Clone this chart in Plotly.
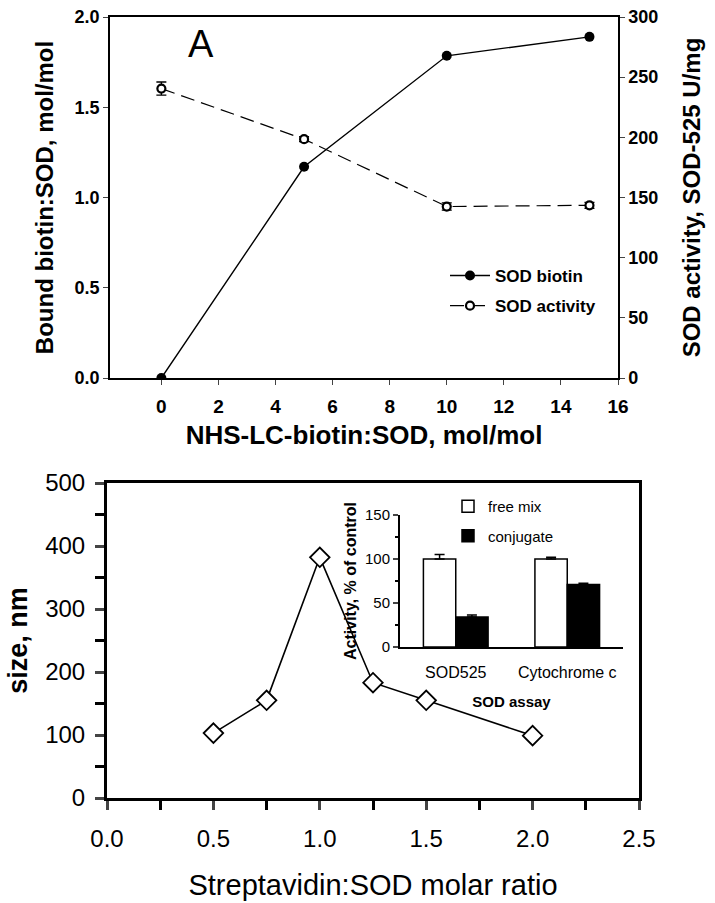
import plotly.graph_objects as go

# ---- Panel A data ----
nhs_ratio = [0, 5, 10, 15]
bound_biotin = [0.0, 1.17, 1.785, 1.89]
sod_activity = [240.5, 198.5, 142.5, 143.5]
sod_activity_err = [5.5, 2.0, 3.0, 2.5]

# ---- Panel B data ----
strep_ratio = [0.5, 0.75, 1.0, 1.25, 1.5, 2.0]
size_nm = [103, 155, 382, 183, 155, 99]

# ---- Inset data ----
assays = ["SOD525", "Cytochrome c"]
free_mix = [100, 100]
free_mix_err = [5, 2]
conjugate = [34, 71]
conjugate_err = [2.5, 1.5]

W, H = 715, 903
def px(x0, x1):
    return [x0 / W, x1 / W]
def py(top, bottom):
    return [1 - bottom / H, 1 - top / H]

BOLD = dict(family="Liberation Sans, Arial", color="black", weight="bold")
REG = dict(family="Liberation Sans, Arial", color="black")

fig = go.Figure()

fig.add_trace(go.Scatter(
    x=nhs_ratio, y=bound_biotin, name="SOD biotin", mode="lines+markers",
    line=dict(color="black", width=1.4), marker=dict(symbol="circle", size=10, color="black"),
    xaxis="x", yaxis="y", legendgroup="a", legend="legend"))
fig.add_trace(go.Scatter(
    x=nhs_ratio, y=sod_activity, name="SOD activity", mode="lines+markers",
    line=dict(color="black", width=1.2, dash="14px,7px"),
    marker=dict(symbol="circle", size=8, color="white", line=dict(color="black", width=2.2)),
    error_y=dict(type="data", array=sod_activity_err, color="black", thickness=1.3, width=5),
    xaxis="x", yaxis="y2", legendgroup="b", legend="legend"))

fig.add_trace(go.Scatter(
    x=strep_ratio, y=size_nm, mode="lines+markers", showlegend=False,
    line=dict(color="black", width=1.6),
    marker=dict(symbol="diamond", size=15, color="white", line=dict(color="black", width=1.8)),
    xaxis="x2", yaxis="y3"))

fig.add_trace(go.Bar(
    x=assays, y=free_mix, name="free mix", marker=dict(color="white", line=dict(color="black", width=1.5)),
    error_y=dict(type="data", array=free_mix_err, arrayminus=[0, 0], symmetric=False,
                 color="black", thickness=1.5, width=5),
    xaxis="x3", yaxis="y4", legend="legend2", legendgroup="f"))
fig.add_trace(go.Bar(
    x=assays, y=conjugate, name="conjugate", marker=dict(color="black", line=dict(color="black", width=1.5)),
    error_y=dict(type="data", array=conjugate_err, arrayminus=[0, 0], symmetric=False,
                 color="black", thickness=1.5, width=5),
    xaxis="x3", yaxis="y4", legend="legend2", legendgroup="c"))

fig.update_layout(
    width=W, height=H, margin=dict(l=0, r=0, t=0, b=0, autoexpand=False),
    paper_bgcolor="white", plot_bgcolor="rgba(0,0,0,0)",
    barmode="group", bargap=0.42, bargroupgap=0,
    xaxis=dict(domain=px(110, 618), range=[-1.8, 16], anchor="y", automargin=False,
               tickvals=list(range(0, 17, 2)), ticks="outside", ticklen=5, tickwidth=1.2,
               ticklabelstandoff=5,
               showline=True, linecolor="black", linewidth=1.5, mirror=True,
               showgrid=False, zeroline=False, tickfont=dict(size=19, **BOLD),
               title=dict(text="NHS-LC-biotin:SOD, mol/mol", font=dict(size=26, **BOLD), standoff=10)),
    yaxis=dict(domain=py(17, 378), range=[0, 2.0], anchor="x", automargin=False,
               tickvals=[0, 0.5, 1.0, 1.5, 2.0],
               tickformat=".1f", ticks="outside", ticklen=5, tickwidth=1.2,
               showline=True, linecolor="black", linewidth=1.5,
               showgrid=False, zeroline=False, tickfont=dict(size=18, **BOLD),
               title=dict(text="Bound biotin:SOD, mol/mol", font=dict(size=24, **BOLD), standoff=14)),
    yaxis2=dict(range=[0, 300], overlaying="y", side="right", anchor="x", automargin=False,
                tickvals=[0, 50, 100, 150, 200, 250, 300], ticks="outside", ticklen=5, tickwidth=1.2,
                showline=True, linecolor="black", linewidth=1.5,
                showgrid=False, zeroline=False, tickfont=dict(size=18, **BOLD),
                title=dict(text="SOD activity, SOD-525 U/mg", font=dict(size=24, **BOLD), standoff=26)),
    xaxis2=dict(domain=px(107, 639), range=[0, 2.5], anchor="y3", automargin=False,
                tickvals=[0, 0.5, 1.0, 1.5, 2.0, 2.5], tickformat=".1f",
                ticks="outside", ticklen=9, tickwidth=3, ticklabelstandoff=8,
                minor=dict(dtick=0.25, tick0=0, ticks="outside", ticklen=9, tickwidth=3, tickcolor="black"),
                showline=True, linecolor="black", linewidth=3, mirror=True,
                showgrid=False, zeroline=False, tickfont=dict(size=24, **REG),
                title=dict(text="Streptavidin:SOD molar ratio", font=dict(size=29, **REG), standoff=24)),
    yaxis3=dict(domain=py(483, 798), range=[0, 500], anchor="x2", automargin=False,
                tickvals=[0, 100, 200, 300, 400, 500], ticks="outside", ticklen=9, tickwidth=3,
                ticklabelstandoff=5,
                minor=dict(dtick=50, tick0=0, ticks="outside", ticklen=9, tickwidth=3, tickcolor="black"),
                showline=True, linecolor="black", linewidth=3, mirror=True,
                showgrid=False, zeroline=False, tickfont=dict(size=24, **REG),
                title=dict(text="size, nm", font=dict(size=27, **BOLD), standoff=10)),
    xaxis3=dict(domain=px(400, 623), range=[-0.5, 1.5], anchor="y4", type="category", automargin=False,
                ticks="", showline=True, linecolor="black", linewidth=2, ticklabelstandoff=10,
                showgrid=False, zeroline=False, tickfont=dict(size=16, **REG),
                title=dict(text="SOD assay", font=dict(size=15, **BOLD), standoff=16)),
    yaxis4=dict(domain=py(515, 647), range=[0, 150], anchor="x3", automargin=False,
                tickvals=[0, 50, 100, 150], ticks="outside", ticklen=5, tickwidth=2,
                minor=dict(dtick=25, tick0=0, ticks="outside", ticklen=3, tickwidth=2, tickcolor="black"),
                showline=True, linecolor="black", linewidth=2,
                showgrid=False, zeroline=False, tickfont=dict(size=15, **REG),
                title=dict(text="Activity, % of control", font=dict(size=16, **BOLD), standoff=4)),
    legend=dict(x=445 / W, y=1 - 258 / H, xanchor="left", yanchor="top",
                font=dict(size=17, **BOLD), bgcolor="rgba(0,0,0,0)", tracegroupgap=5,
                itemwidth=40),
    legend2=dict(x=448 / W, y=1 - 490 / H, xanchor="left", yanchor="top",
                 font=dict(size=15, **REG), bgcolor="rgba(0,0,0,0)", tracegroupgap=7,
                 itemwidth=30),
    annotations=[dict(text="A", x=201 / W, y=1 - 44 / H, xref="paper", yref="paper",
                      xanchor="center", yanchor="middle",
                      showarrow=False, font=dict(size=38, **REG))],
)

fig.write_html("out.html", config={"displayModeBar": False},
               post_script="document.body.style.margin='0';")
